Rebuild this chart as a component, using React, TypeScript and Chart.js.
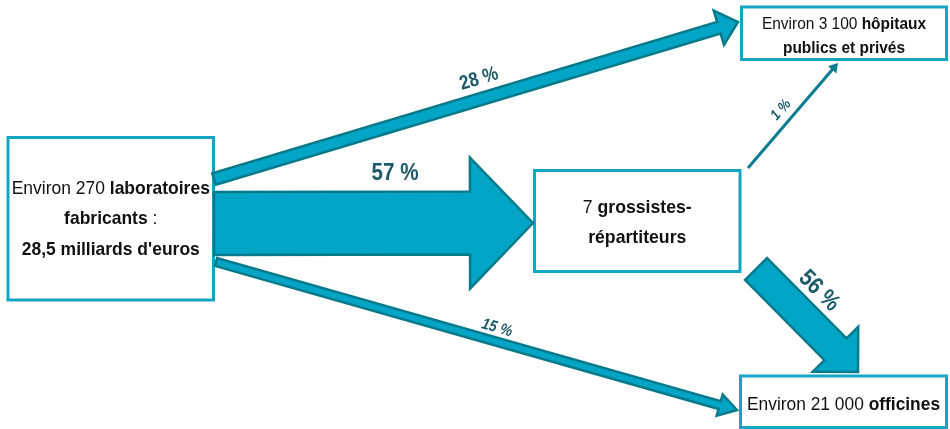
import React, { useEffect, useRef } from "react";
import { Chart, registerables } from "chart.js";

Chart.register(...registerables);

// ---- data ----
const nodeNames = ["laboratoires", "grossistes", "hopitaux", "officines"];
// rich text per node: lines -> segments [text, bold]
const nodeText: [string, boolean][][][] = [
  [
    [["Environ 270 ", false], ["laboratoires", true]],
    [["fabricants", true], [" :", false]],
    [["28,5 milliards d'euros", true]],
  ],
  [
    [["7 ", false], ["grossistes-", true]],
    [["répartiteurs", true]],
  ],
  [
    [["Environ 3 100 ", false], ["hôpitaux", true]],
    [["publics et privés", true]],
  ],
  [[["Environ 21 000 ", false], ["officines", true]]],
];
const flowFrom = [0, 0, 0, 1, 1];
const flowTo = [1, 2, 3, 2, 3];
const flowShares = [57, 28, 15, 1, 56];
const flowLabels = flowShares.map((v) => `${v} %`);

// ---- layout (diagram units, mapped through the chart scales) ----
const nodeBoxes = [
  [8, 137.5, 213.5, 300],
  [534.5, 170.5, 740, 271.5],
  [741.5, 7, 946.5, 59.5],
  [740.5, 376, 946.5, 427.5],
];
const nodeFontSize = [19, 19, 17, 18];
const nodeCondense = [0.92, 0.93, 0.91, 0.965];
const nodeBaselines = [[194, 224, 255], [213, 243], [29, 53], [410]];

// start x, start y, tip x, tip y, shaft width, head width, head length
const flowGeom = [
  [214, 223.5, 533, 223, 63, 131, 63],
  [214, 179, 738, 22, 12, 36, 20],
  [216, 262, 737, 410, 8, 22, 18],
  [748, 168, 838, 63, 3, 11, 9],
  [756, 269, 858, 372, 31, 64, 32],
];
// label centre x, y, angle (deg), size, italic
const labelGeom = [
  [395, 173, 0, 24, false],
  [479, 79, -16.7, 20, false],
  [497, 328, 16, 16, true],
  [781, 110, -49, 15, true],
  [819, 291, 45, 24, false],
];
const LABEL_CONDENSE = 0.86;

const FONT = '"Liberation Sans", Arial, sans-serif';
const BOX_COLOR = "#12A5C4";
const ARROW_FILL = "#02A5C5";
const ARROW_STROKE = "#067A8B";
const THIN_COLOR = "#0B7D91";
const LABEL_COLOR = "#1B5A69";

const diagramPlugin = {
  id: "flowDiagram",
  afterDraw(chart: any) {
    const ctx: CanvasRenderingContext2D = chart.ctx;
    const xs = chart.scales.x;
    const ys = chart.scales.y;
    const px = (v: number) => xs.getPixelForValue(v);
    const py = (v: number) => ys.getPixelForValue(v);

    ctx.save();
    // boxes
    nodeBoxes.forEach((b) => {
      const x0 = px(b[0]), y0 = py(b[1]), x1 = px(b[2]), y1 = py(b[3]);
      ctx.fillStyle = "#ffffff";
      ctx.fillRect(x0, y0, x1 - x0, y1 - y0);
      ctx.strokeStyle = BOX_COLOR;
      ctx.lineWidth = 3;
      ctx.strokeRect(x0, y0, x1 - x0, y1 - y0);
    });

    // arrows
    flowShares.forEach((share, i) => {
      const g = flowGeom[i];
      const sx = px(g[0]), sy = py(g[1]), tx = px(g[2]), ty = py(g[3]);
      const w = g[4], hw = g[5], hl = g[6];
      const dx = tx - sx, dy = ty - sy;
      const len = Math.hypot(dx, dy);
      const ux = dx / len, uy = dy / len;
      const nx = -uy, ny = ux;
      const bx = tx - ux * hl, by = ty - uy * hl;
      ctx.beginPath();
      ctx.moveTo(sx + nx * w / 2, sy + ny * w / 2);
      ctx.lineTo(bx + nx * w / 2, by + ny * w / 2);
      ctx.lineTo(bx + nx * hw / 2, by + ny * hw / 2);
      ctx.lineTo(tx, ty);
      ctx.lineTo(bx - nx * hw / 2, by - ny * hw / 2);
      ctx.lineTo(bx - nx * w / 2, by - ny * w / 2);
      ctx.lineTo(sx - nx * w / 2, sy - ny * w / 2);
      ctx.closePath();
      if (share < 5) {
        ctx.fillStyle = THIN_COLOR;
        ctx.fill();
      } else {
        ctx.fillStyle = ARROW_FILL;
        ctx.fill();
        ctx.strokeStyle = ARROW_STROKE;
        ctx.lineWidth = 2.5;
        ctx.lineJoin = "miter";
        ctx.stroke();
      }
    });

    // flow labels
    flowLabels.forEach((lab, i) => {
      const l = labelGeom[i] as any[];
      ctx.save();
      ctx.translate(px(l[0]), py(l[1]));
      ctx.rotate((l[2] * Math.PI) / 180);
      ctx.scale(LABEL_CONDENSE, 1);
      ctx.font = `${l[4] ? "italic " : ""}bold ${l[3]}px ${FONT}`;
      ctx.fillStyle = LABEL_COLOR;
      ctx.textAlign = "center";
      ctx.textBaseline = "middle";
      ctx.fillText(lab, 0, 0);
      ctx.restore();
    });

    // node texts
    nodeNames.forEach((_, i) => {
      const b = nodeBoxes[i];
      const cx = px((b[0] + b[2]) / 2);
      const size = nodeFontSize[i];
      const k = nodeCondense[i];
      nodeText[i].forEach((line, li) => {
        const fonts = line.map(([, bold]) => `${bold ? "bold " : ""}${size}px ${FONT}`);
        let total = 0;
        const widths = line.map(([t], j) => {
          ctx.font = fonts[j];
          const m = ctx.measureText(t).width * k;
          total += m;
          return m;
        });
        let x = cx - total / 2;
        const y = py(nodeBaselines[i][li]);
        ctx.textAlign = "left";
        ctx.textBaseline = "alphabetic";
        ctx.fillStyle = "#111111";
        line.forEach(([t], j) => {
          ctx.save();
          ctx.translate(x, y);
          ctx.scale(k, 1);
          ctx.font = fonts[j];
          ctx.fillText(t, 0, 0);
          ctx.restore();
          x += widths[j];
        });
      });
    });
    ctx.restore();
  },
};

export default function App() {
  const ref = useRef<HTMLCanvasElement>(null);
  useEffect(() => {
    if (!ref.current) return;
    const chart = new Chart(ref.current, {
      type: "scatter",
      data: { datasets: [{ data: [] }] },
      options: {
        animation: false,
        responsive: false,
        devicePixelRatio: 1,
        layout: { padding: 0 },
        plugins: { legend: { display: false }, tooltip: { enabled: false } },
        scales: {
          x: { type: "linear", min: 0, max: 950, display: false },
          y: { type: "linear", min: 0, max: 429, reverse: true, display: false },
        },
      },
      plugins: [diagramPlugin],
    } as any);
    return () => chart.destroy();
  }, []);
  return (
    <div style={{ position: "absolute", left: 0, top: 0, width: 950, height: 429, background: "#fff" }}>
      <canvas ref={ref} width={950} height={429} style={{ display: "block" }} />
    </div>
  );
}
